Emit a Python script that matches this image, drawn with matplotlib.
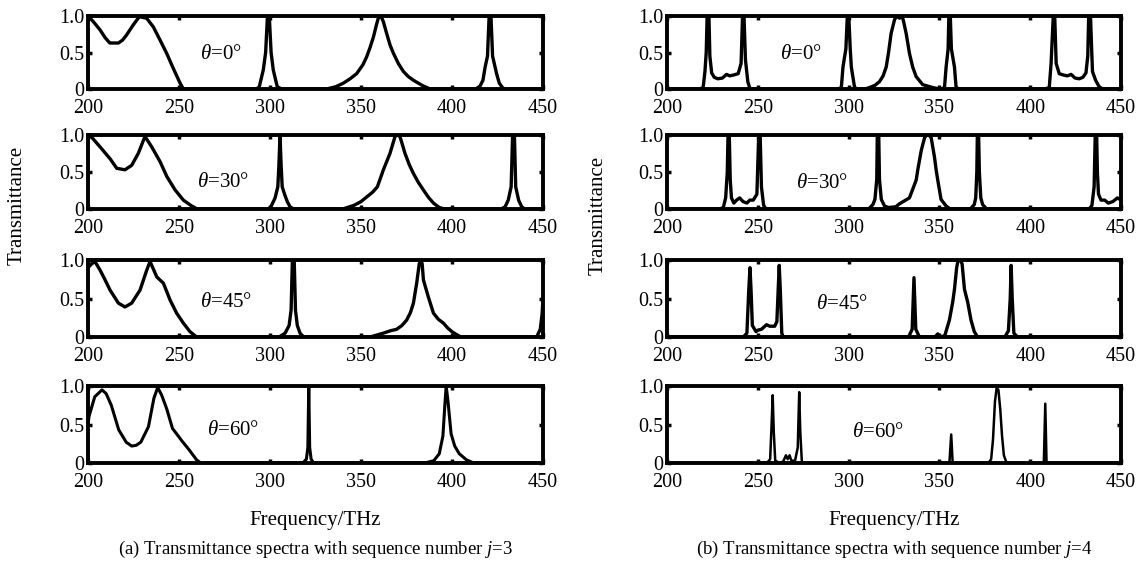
import matplotlib
matplotlib.use('Agg')
import matplotlib.pyplot as plt

plt.rcParams['font.family'] = ['Liberation Serif', 'DejaVu Serif']
plt.rcParams['mathtext.fontset'] = 'custom'
plt.rcParams['mathtext.rm'] = 'Liberation Serif'
plt.rcParams['mathtext.it'] = 'Liberation Serif:italic'

# ---------------- data ----------------
x_ticks = [200, 250, 300, 350, 400, 450]
x_tick_labels = ['200', '250', '300', '350', '400', '450']
y_ticks = [0, 0.5, 1.0]
y_tick_labels = ['0', '0.5', '1.0']
angles = ['0', '30', '45', '60']

# (a) j = 3
a0_f = [200, 203, 206.6, 209.5, 212, 216.7, 219, 221.2, 224.9, 228.2, 232.2, 235.9, 239.6, 243.2, 246.9, 250.6, 252.4,
        292, 294, 296.3, 297.6, 298.6, 299.6, 300.6, 301.8, 304, 306.5,
        331, 336, 340.3, 344, 347.6, 351, 353.1, 355, 356.8, 358.5, 359.5, 360.5, 361.5, 362.3, 364.1, 366, 367.8,
        370.5, 373.3, 376, 378.8, 381.5, 384.3, 388,
        413, 415.4, 417, 418.2, 419.5, 420.4, 421.4, 422.3, 423.4, 424.6, 426, 428, 430, 450]
a0_t = [1.0, 0.92, 0.81, 0.7, 0.63, 0.63, 0.67, 0.74, 0.88, 0.99, 0.97, 0.85, 0.67, 0.49, 0.28, 0.08, 0.0,
        0.0, 0.02, 0.26, 0.5, 1.0, 1.0, 0.5, 0.26, 0.03, 0.0,
        0.0, 0.03, 0.08, 0.14, 0.21, 0.33, 0.44, 0.57, 0.71, 0.88, 0.97, 1.0, 0.97, 0.92, 0.76, 0.6, 0.49,
        0.35, 0.24, 0.17, 0.12, 0.08, 0.04, 0.0,
        0.0, 0.04, 0.12, 0.3, 0.45, 1.0, 1.0, 0.45, 0.33, 0.2, 0.08, 0.01, 0.0, 0.0]

a1_f = [200, 202, 206.6, 212.1, 215.8, 220.3, 224, 227.6, 231.3, 235, 239.6, 243.3, 247.8, 252.4, 257, 260,
        299, 300.5, 302.8, 304.3, 304.9, 305.5, 306.1, 306.7, 308, 309.5, 311, 313,
        340, 346.2, 350, 353.5, 356.5, 359, 362.3, 365.9, 368.7, 370, 371.4, 374.2, 376.5, 378.8, 381.5, 384.2,
        387, 389.8, 393, 396,
        427, 429.2, 430.9, 432.5, 433.3, 434.3, 435, 436.6, 438.3, 440, 450]
a1_t = [1.0, 0.97, 0.84, 0.68, 0.55, 0.53, 0.59, 0.75, 0.98, 0.84, 0.64, 0.44, 0.26, 0.12, 0.04, 0.0,
        0.0, 0.03, 0.15, 0.3, 0.6, 1.0, 0.6, 0.3, 0.2, 0.1, 0.03, 0.0,
        0.0, 0.05, 0.1, 0.17, 0.23, 0.3, 0.53, 0.75, 0.98, 1.0, 0.98, 0.75, 0.6, 0.48, 0.36, 0.26,
        0.16, 0.08, 0.02, 0.0,
        0.0, 0.03, 0.12, 0.3, 1.0, 1.0, 0.3, 0.12, 0.03, 0.0, 0.0]

a2_f = [200, 202, 203.8, 206.6, 209, 212.1, 216.7, 220.3, 224, 228.6, 232.3, 234.1, 237.8, 241.4, 245.1, 248.7,
        252.4, 256, 259.7,
        305, 308.3, 310.5, 311.6, 312.3, 313.3, 314, 315, 316.5, 318.5,
        355, 362.3, 366, 369.6, 372.5, 375.1, 377.2, 378.8, 380.6, 382, 382.8, 383.6, 384.3, 387, 389.8, 392.5,
        395.3, 397.5, 399.9, 402.6, 405,
        446.5, 448.5, 449.5, 450]
a2_t = [0.9, 0.95, 0.98, 0.87, 0.76, 0.61, 0.44, 0.39, 0.44, 0.61, 0.87, 0.98, 0.78, 0.7, 0.48, 0.31,
        0.18, 0.07, 0.0,
        0.0, 0.05, 0.15, 0.35, 1.0, 1.0, 0.35, 0.15, 0.05, 0.0,
        0.0, 0.05, 0.08, 0.1, 0.15, 0.22, 0.32, 0.44, 0.7, 0.95, 1.0, 0.95, 0.74, 0.52, 0.31, 0.23,
        0.18, 0.12, 0.07, 0.03, 0.0,
        0.0, 0.1, 0.3, 0.5]

a3_f = [200, 200.6, 203.7, 207.7, 210, 212.8, 216.9, 221, 224, 226.5, 229, 233.2, 236.2, 238.3, 240.5, 243.3,
        246.4, 251.5, 255.6, 259.7, 262,
        318, 320, 320.8, 321.3, 321.8, 322.6, 324,
        385, 390, 393, 395, 396.2, 396.8, 397.8, 399.5, 401.5, 404, 408, 412, 450]
a3_t = [0.5, 0.61, 0.86, 0.95, 0.9, 0.75, 0.43, 0.27, 0.22, 0.23, 0.27, 0.47, 0.84, 0.98, 0.88, 0.7,
        0.45, 0.29, 0.17, 0.04, 0.0,
        0.0, 0.05, 0.2, 1.0, 0.2, 0.05, 0.0,
        0.0, 0.03, 0.12, 0.35, 0.8, 1.0, 0.8, 0.38, 0.22, 0.12, 0.04, 0.0, 0.0]

# (b) j = 4
b0_f = [200, 218, 219.9, 220.9, 221.6, 222.1, 223.1, 223.6, 224.6, 226, 228, 230.5, 232.8, 234.5, 236.4, 239.2,
        240.8, 241.6, 242.4, 243.2, 244.5, 245.6, 247,
        294, 296, 296.9, 298.5, 299.3, 300.1, 300.9, 301.5, 303.3, 305,
        309, 311.5, 314.5, 317, 319, 320.7, 322, 323.4, 325.3, 326.5, 328, 329.5, 330.5, 331.7, 333.5, 335.3,
        337.2, 340.8, 346.3, 350,
        351, 352.8, 353.7, 354.8, 355.2, 356, 356.6, 358.3, 359.2, 361,
        408, 410.5, 411.5, 412.7, 413.5, 414.3, 416, 418.5, 420.5, 422.5, 424.7, 427, 429, 430.7, 431.7, 432.2,
        433.2, 433.9, 434.3, 436, 438, 440, 450]
b0_t = [0.0, 0.0, 0.02, 0.24, 0.5, 1.0, 1.0, 0.45, 0.22, 0.16, 0.14, 0.15, 0.2, 0.18, 0.19, 0.21,
        0.35, 1.0, 1.0, 0.4, 0.1, 0.01, 0.0,
        0.0, 0.02, 0.3, 0.55, 1.0, 1.0, 0.55, 0.3, 0.02, 0.0,
        0.0, 0.02, 0.05, 0.1, 0.18, 0.3, 0.5, 0.76, 0.95, 1.0, 0.97, 1.0, 0.9, 0.76, 0.49, 0.3,
        0.17, 0.06, 0.02, 0.0,
        0.0, 0.02, 0.3, 0.55, 1.0, 1.0, 0.55, 0.3, 0.02, 0.0,
        0.0, 0.02, 0.35, 1.0, 1.0, 0.35, 0.21, 0.19, 0.18, 0.2, 0.15, 0.14, 0.16, 0.22, 0.45, 1.0,
        1.0, 0.5, 0.24, 0.12, 0.03, 0.0, 0.0]

b1_f = [200, 229, 231, 232.3, 233.2, 233.6, 234.3, 234.8, 235.5, 236.8, 238.3, 240, 241.9, 244, 245.6, 247.5,
        249.5, 250.5, 251.3, 252, 253.2, 254.5,
        311, 313.4, 314.5, 315.5, 315.8, 316.6, 317, 318, 319.8, 322, 326, 328, 333.5, 337.2, 338.1, 340, 341.8,
        342.8, 344.3, 345.5, 347.3, 348.2, 349.1, 350.9, 353.7, 356,
        367, 369.2, 370, 370.6, 370.9, 371.6, 372, 372.8, 373.8, 376,
        432.5, 434, 435.2, 435.8, 436.6, 437, 437.6, 439, 441, 443, 445.5, 448, 450]
b1_t = [0.0, 0.0, 0.02, 0.15, 0.5, 1.0, 1.0, 0.4, 0.15, 0.08, 0.12, 0.15, 0.1, 0.08, 0.12, 0.12,
        0.2, 1.0, 1.0, 0.3, 0.05, 0.0,
        0.0, 0.06, 0.13, 0.4, 1.0, 1.0, 0.4, 0.13, 0.04, 0.02, 0.03, 0.07, 0.15, 0.39, 0.53, 0.79, 0.96,
        1.0, 1.0, 0.96, 0.7, 0.53, 0.39, 0.13, 0.04, 0.0,
        0.0, 0.06, 0.15, 0.5, 1.0, 1.0, 0.5, 0.15, 0.06, 0.0,
        0.0, 0.05, 0.3, 1.0, 1.0, 0.5, 0.2, 0.12, 0.12, 0.08, 0.1, 0.15, 0.12]

b2_f = [200, 242, 244, 245, 245.7, 246.3, 247, 249, 250.2, 252, 254.8, 256.6, 259.3, 260.5, 261.2, 261.8, 262.4,
        263.2, 264,
        333, 335, 336, 337, 339,
        347.5, 349.1, 350.5,
        351, 353, 355.5, 357.3, 358.3, 359.5, 360.3, 361.5, 362.5, 363.8, 365.6, 367.4, 369.2, 371,
        386, 388, 389, 389.5, 390.1, 391, 393, 450]
b2_t = [0.0, 0.0, 0.05, 0.6, 0.9, 0.6, 0.15, 0.07, 0.09, 0.1, 0.16, 0.14, 0.14, 0.2, 0.6, 0.93, 0.6,
        0.05, 0.0,
        0.0, 0.1, 0.77, 0.1, 0.0,
        0.0, 0.04, 0.0,
        0.0, 0.02, 0.22, 0.45, 0.62, 0.9, 1.0, 1.0, 0.95, 0.62, 0.45, 0.22, 0.07, 0.0,
        0.0, 0.08, 0.5, 0.93, 0.5, 0.05, 0.0, 0.0]

b3_f = [200, 255, 256.8, 257.6, 258.2, 258.8, 259.6, 262, 264, 265.5, 266.5, 267.5, 268.5, 270.5, 272, 272.8,
        273.4, 274.3,
        355.5, 356.5, 357.3,
        377, 378.5, 379.5, 380.6, 381.5, 382.5, 383.5, 384.5, 385.5, 387,
        407.5, 408.3, 409, 450]
b3_t = [0.0, 0.0, 0.05, 0.5, 0.88, 0.4, 0.03, 0.0, 0.02, 0.1, 0.05, 0.1, 0.03, 0.03, 0.2, 0.92,
        0.4, 0.0,
        0.0, 0.37, 0.0,
        0.0, 0.05, 0.3, 0.8, 0.97, 0.95, 0.7, 0.35, 0.1, 0.0,
        0.0, 0.77, 0.0, 0.0]

freqs = [[a0_f, a1_f, a2_f, a3_f], [b0_f, b1_f, b2_f, b3_f]]
trans = [[a0_t, a1_t, a2_t, a3_t], [b0_t, b1_t, b2_t, b3_t]]

# ---------------- layout ----------------
W, H = 1146, 576
rows = [(16, 89), (135, 209), (260, 337), (386, 463)]
cols = [(88, 543), (667, 1121)]
label_pos = [[(261.5, 0.47), (260, 0.36), (261.5, 0.45), (265.5, 0.42)],
             [(262, 0.47), (271, 0.35), (282, 0.42), (302, 0.40)]]
line_w = [[2.4, 2.4, 2.4, 2.2], [2.4, 2.4, 2.4, 1.8]]

fig = plt.figure(figsize=(W / 100, H / 100), dpi=100)

for c, (xl, xr) in enumerate(cols):
    for r, (yt, yb) in enumerate(rows):
        ax = fig.add_axes([xl / W, 1 - yb / H, (xr - xl) / W, (yb - yt) / H])
        ax.plot(freqs[c][r], trans[c][r], color='black', lw=line_w[c][r],
                solid_joinstyle='round', solid_capstyle='butt')
        ax.set_xlim(200, 450)
        ax.set_ylim(0, 1)
        ax.set_xticks(x_ticks)
        ax.set_xticklabels(x_tick_labels)
        ax.set_yticks(y_ticks)
        ax.set_yticklabels(y_tick_labels)
        ax.tick_params(direction='in', top=True, right=True, length=3, width=2.5,
                       labelsize=14.5, colors='black')
        ax.tick_params(axis='x', pad=7.5)
        ax.tick_params(axis='y', pad=2.5)
        for s in ax.spines.values():
            s.set_linewidth(2.8)
        tx, ty = label_pos[c][r]
        ax.text(tx, ty, r'$\theta$=' + angles[r] + '°', fontsize=15,
                ha='left', va='center')

fig.text(17 / W, 1 - 205 / H, 'Transmittance', rotation=90, ha='center', va='center', fontsize=15)
fig.text(598 / W, 1 - 215 / H, 'Transmittance', rotation=90, ha='center', va='center', fontsize=15)
fig.text(315.5 / W, 1 - 521 / H, 'Frequency/THz', ha='center', va='center', fontsize=15)
fig.text(894 / W, 1 - 521 / H, 'Frequency/THz', ha='center', va='center', fontsize=15)
fig.text(315.5 / W, 1 - 549 / H, r'(a) Transmittance spectra with sequence number $j$=3',
         ha='center', va='center', fontsize=13.5)
fig.text(894 / W, 1 - 549 / H, r'(b) Transmittance spectra with sequence number $j$=4',
         ha='center', va='center', fontsize=13.5)

fig.savefig('out.png', dpi=100)
